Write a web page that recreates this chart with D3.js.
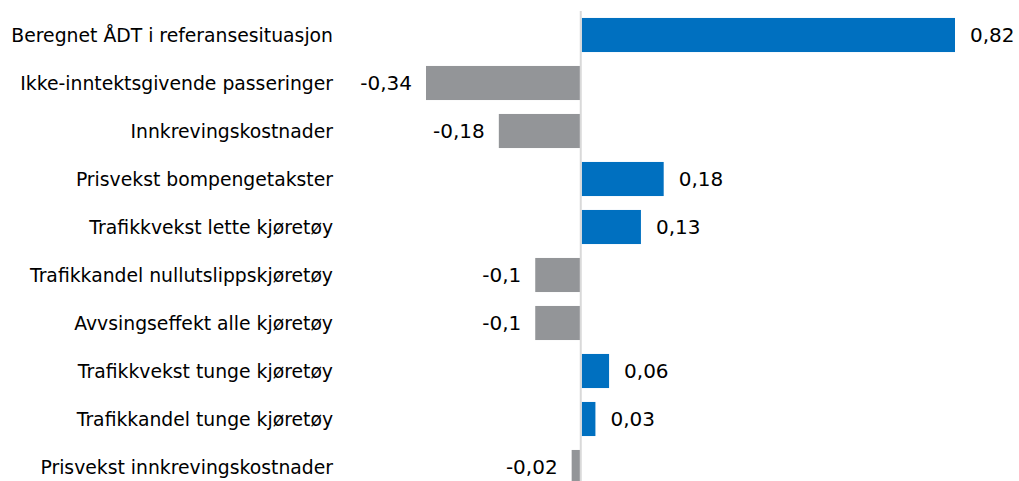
<!DOCTYPE html>
<html>
<head>
<meta charset="utf-8">
<script src="https://cdn.jsdelivr.net/npm/d3@7"></script>
<style>
  body { margin: 0; background: #fff; }
  svg text { font-family: "DejaVu Sans", sans-serif; font-size: 18.8px; fill: #000; }
  svg text.val { font-size: 20px; }
</style>
</head>
<body>
<div class="d3-div"></div>
<script>
// Chart data.
var categories = [
  "Beregnet ÅDT i referansesituasjon",
  "Ikke-inntektsgivende passeringer",
  "Innkrevingskostnader",
  "Prisvekst bompengetakster",
  "Trafikkvekst lette kjøretøy",
  "Trafikkandel nullutslippskjøretøy",
  "Avvsingseffekt alle kjøretøy",
  "Trafikkvekst tunge kjøretøy",
  "Trafikkandel tunge kjøretøy",
  "Prisvekst innkrevingskostnader"
];
var values = [0.82, -0.34, -0.18, 0.18, 0.13, -0.1, -0.1, 0.06, 0.03, -0.02];
var valueLabels = ["0,82", "-0,34", "-0,18", "0,18", "0,13", "-0,1", "-0,1", "0,06", "0,03", "-0,02"];

var width = 1019;
var height = 481;

var svg = d3.select(".d3-div")
  .append("svg")
  .attr("width", width)
  .attr("height", height);

// x: zero line sits at about 581px
var x = d3.scaleLinear()
  .domain([-0.34, 0.82])
  .range([426, 954]);

var y = d3.scaleBand()
  .domain(categories)
  .range([11, 11 + 48 * categories.length])
  .paddingInner(0.29)
  .paddingOuter(0.145);

// bars
svg.selectAll("rect.bar")
  .data(values)
  .enter()
  .append("rect")
  .attr("class", "bar")
  .attr("x", function(d) { return d >= 0 ? x(0) + 1 : x(d); })
  .attr("y", function(d, i) { return y(categories[i]); })
  .attr("width", function(d) { return Math.abs(x(d) - x(0)); })
  .attr("height", y.bandwidth())
  .attr("fill", function(d) { return d >= 0 ? "#0070c0" : "#939598"; });

// zero line
svg.append("line")
  .attr("x1", x(0)).attr("x2", x(0))
  .attr("y1", 11).attr("y2", height)
  .attr("stroke", "#d9d9d9")
  .attr("stroke-width", 2);

// category labels
svg.selectAll("text.cat")
  .data(categories)
  .enter()
  .append("text")
  .attr("class", "cat")
  .attr("x", 333)
  .attr("y", function(d) { return y(d) + y.bandwidth() / 2; })
  .attr("dy", "0.35em")
  .attr("text-anchor", "end")
  .text(function(d) { return d; });

// value labels
svg.selectAll("text.val")
  .data(values)
  .enter()
  .append("text")
  .attr("class", "val")
  .attr("x", function(d) { return d >= 0 ? x(d) + 16 : x(d) - 14; })
  .attr("y", function(d, i) { return y(categories[i]) + y.bandwidth() / 2; })
  .attr("dy", "0.35em")
  .attr("text-anchor", function(d) { return d >= 0 ? "start" : "end"; })
  .text(function(d, i) { return valueLabels[i]; });
</script>
</body>
</html>
